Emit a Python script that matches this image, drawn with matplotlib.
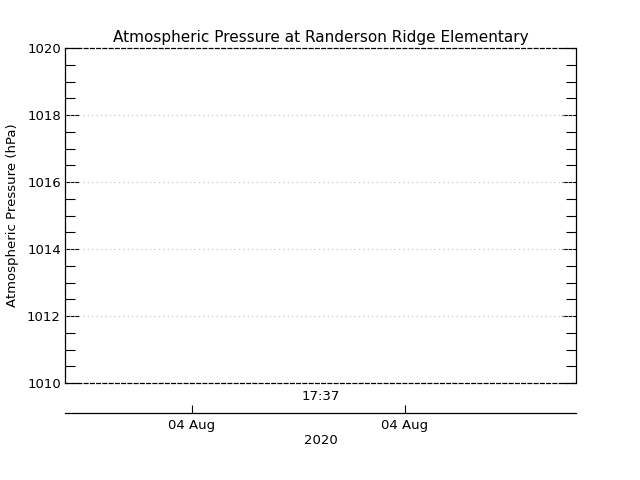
import matplotlib
matplotlib.use('Agg')
from matplotlib import pyplot as plt
from matplotlib.ticker import MultipleLocator

# chart data (the reference has no data points plotted)
title = 'Atmospheric Pressure at Randerson Ridge Elementary'
ylabel = 'Atmospheric Pressure (hPa)'
pressure_times = []
pressure_values = []
y_range = [1010, 1020]
y_ticks = [1010, 1012, 1014, 1016, 1018, 1020]
grid_levels = [1012, 1014, 1016, 1018]
date_tick_pos = [0.2485, 0.665]
date_tick_labels = ['04 Aug', '04 Aug']
time_label = '17:37'
year_label = '2020'

plt.rcParams['font.family'] = ['DejaVu Sans']
fig = plt.figure(figsize=(6.4, 4.8), dpi=100)

left, width = 65 / 640, 511 / 640
bottom, top = 1 - 383 / 480, 1 - 48 / 480
ax = fig.add_axes([left, bottom, width, top - bottom])
ax.plot(pressure_times, pressure_values, 'k-')
ax.set_xlim(0, 1)
ax.set_ylim(*y_range)
ax.set_yticks(y_ticks)
ax.yaxis.set_minor_locator(MultipleLocator(0.5))
ax.set_xticks([])
ax.tick_params(axis='y', which='major', direction='in', length=10, width=0.8,
               right=True, labelsize=9.5, pad=3)
ax.tick_params(axis='y', which='minor', direction='in', length=7, width=0.8,
               right=True)
for lev in grid_levels:
    ax.axhline(lev, color='#bbbbbb', linestyle=(0, (1, 3)), linewidth=0.8)
for s in ['top', 'bottom']:
    ax.spines[s].set_linestyle((0, (3, 2)))
for s in ax.spines.values():
    s.set_linewidth(0.9)
ax.set_title(title, fontsize=11, pad=4)
ax.set_ylabel(ylabel, fontsize=9.5, labelpad=6)

# separate date axis below the plot
ax2 = fig.add_axes([left, 1 - 413 / 480, width, 0.001])
ax2.set_xlim(0, 1)
ax2.set_yticks([])
for s in ['top', 'left', 'right']:
    ax2.spines[s].set_visible(False)
ax2.spines['bottom'].set_linewidth(0.9)
ax2.set_xticks(date_tick_pos)
ax2.set_xticklabels(date_tick_labels)
ax2.tick_params(axis='x', direction='in', length=6, width=0.8, labelsize=9.5, pad=4)
ax2.set_xlabel(year_label, fontsize=9.5, labelpad=2)
ax2.set_title(time_label, fontsize=9.5, pad=9)

plt.savefig('out.png')
